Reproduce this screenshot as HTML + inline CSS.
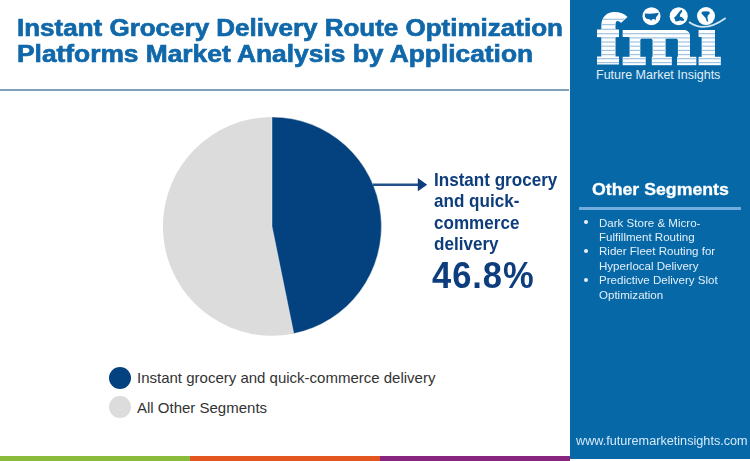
<!DOCTYPE html>
<html><head><meta charset="utf-8">
<style>
html,body{margin:0;padding:0;}
body{width:750px;height:461px;position:relative;overflow:hidden;background:#fff;font-family:"Liberation Sans",sans-serif;}
.abs{position:absolute;white-space:nowrap;}
.title{left:17px;color:#1068aa;font-weight:bold;font-size:23px;line-height:26.5px;transform-origin:0 0;-webkit-text-stroke:0.65px #1068aa;}
#hr{left:0;top:89px;width:569px;height:2px;background:#7f9fbb;}
#panel{left:570px;top:0;width:180px;height:459px;background:#0668a6;}
.stripe{top:456px;height:5px;}
#lbl{left:434px;top:169.6px;color:#0d3d7c;font-weight:bold;font-size:17.8px;line-height:21.5px;transform:scaleX(0.96);transform-origin:0 0;}
#pct{left:432px;top:256.2px;color:#0d3d7c;font-weight:bold;font-size:36.5px;line-height:40px;letter-spacing:1px;transform:scaleX(0.945);transform-origin:0 0;}
.leg{font-size:15px;color:#333;line-height:17px;}
.dot{border-radius:50%;width:22px;height:22px;}
#seg{left:592px;top:180px;color:#fff;font-weight:bold;font-size:16px;line-height:20px;transform:scaleX(1.107);transform-origin:0 0;-webkit-text-stroke:0.3px #fff;}
#divider{left:579px;top:207px;width:162px;height:3px;background:#72ade0;}
.bl{left:599px;color:#e3f0fb;font-size:11px;line-height:14.35px;transform:scaleX(1.05);transform-origin:0 0;}
.bu{left:583.7px;width:4px;height:4px;border-radius:50%;background:#eaf3fb;}
#url{left:575.5px;top:434.2px;color:#d6eafb;font-size:12px;line-height:14px;transform:scaleX(1.055);transform-origin:0 0;}
#fmitext{left:596px;top:66.5px;color:#e2eef9;font-size:12.5px;line-height:16px;}
</style></head>
<body>
<div class="abs title" style="top:15px;transform:scaleX(1.13)">Instant Grocery Delivery Route Optimization</div>
<div class="abs title" style="top:40.6px;transform:scaleX(1.145)">Platforms Market Analysis by Application</div>
<div id="hr" class="abs"></div>

<svg class="abs" style="left:0;top:0" width="570" height="461" viewBox="0 0 570 461">
  <circle cx="272.3" cy="226.4" r="109.4" fill="#dcdcdc"/>
  <path d="M272 226.4 L272 117 A109.4 109.4 0 0 1 293.8 333.6 Z" fill="#03427f" stroke="#fff" stroke-width="0.4"/>
  <line x1="373" y1="184.8" x2="420" y2="184.8" stroke="#22508a" stroke-width="2.5"/>
  <path d="M417.8 178 L427.2 184.7 L417.8 191.3 Z" fill="#0d3d7c"/>
</svg>

<div id="lbl" class="abs">Instant grocery<br>and quick-<br>commerce<br>delivery</div>
<div id="pct" class="abs">46.8%</div>

<div class="abs dot" style="left:108.5px;top:366.6px;background:#04417f"></div>
<div class="abs dot" style="left:108.5px;top:396.2px;background:#dcdcdc"></div>
<div class="abs leg" style="left:137px;top:369px">Instant grocery and quick-commerce delivery</div>
<div class="abs leg" style="left:137px;top:399.2px">All Other Segments</div>

<div class="abs stripe" style="left:0;width:190px;background:#8bbb3b"></div>
<div class="abs stripe" style="left:190px;width:190px;background:#e3561f"></div>
<div class="abs stripe" style="left:380px;width:190px;background:#88267f"></div>

<div id="panel" class="abs"></div>
<div id="seg" class="abs">Other Segments</div>
<div id="divider" class="abs"></div>
<div class="abs bu" style="top:220px"></div>
<div class="abs bu" style="top:249px"></div>
<div class="abs bu" style="top:277.5px"></div>
<div class="abs bl" style="top:215.8px">Dark Store &amp; Micro-<br>Fulfillment Routing<br>Rider Fleet Routing for<br>Hyperlocal Delivery<br>Predictive Delivery Slot<br>Optimization</div>
<svg class="abs" style="left:0;top:0" width="750" height="90" viewBox="0 0 750 90">
  <defs><mask id="lm" maskUnits="userSpaceOnUse" x="0" y="0" width="750" height="90"><g fill="#fff"><path d="M601.3 57 L601.3 26 C601.3 17 607 12 614 12 C620 12 624.5 13.5 627.5 17 L621 23 C619.5 21.2 617.8 20.6 616.6 21.3 C615.7 22 615.5 23.5 615.5 26 L615.5 57 Z"/>
    <rect x="597" y="29.6" width="22" height="7.5"/>
    <rect x="597" y="56.5" width="22" height="8"/>
    <path d="M622.7 30 L660 30 C663 30 665.6 32 665.6 36 L665.6 57 L652.6 57 L652.6 40.5 C652.6 39 651.5 38.4 650 38.4 L642.5 38.4 C641 38.4 640.3 39 640.3 40.5 L640.3 57 L629.6 57 L629.6 37 L622.7 37 Z"/>
    <path d="M655 30 L684 30 C687.5 30 690 32.5 690 36 L690 57 L677.9 57 L677.9 40.5 C677.9 39 676.8 38.4 675.3 38.4 L667.5 38.4 C666.2 38.4 665.6 39 665.6 40.5 L665.6 38 L655 34 Z"/>
    <rect x="622.7" y="56.8" width="23" height="8.4"/>
    <rect x="651.8" y="56.8" width="20" height="8.4"/>
    <rect x="677" y="56.8" width="19.3" height="8.4"/>
    <path d="M698.6 30 L715 30 L715 57 L701.7 57 L701.7 37 L698.6 37 Z"/>
    <rect x="698.6" y="56.8" width="22.2" height="8.4"/></g></mask></defs>
  <g fill="#fff"><path d="M601.3 57 L601.3 26 C601.3 17 607 12 614 12 C620 12 624.5 13.5 627.5 17 L621 23 C619.5 21.2 617.8 20.6 616.6 21.3 C615.7 22 615.5 23.5 615.5 26 L615.5 57 Z"/>
    <rect x="597" y="29.6" width="22" height="7.5"/>
    <rect x="597" y="56.5" width="22" height="8"/>
    <path d="M622.7 30 L660 30 C663 30 665.6 32 665.6 36 L665.6 57 L652.6 57 L652.6 40.5 C652.6 39 651.5 38.4 650 38.4 L642.5 38.4 C641 38.4 640.3 39 640.3 40.5 L640.3 57 L629.6 57 L629.6 37 L622.7 37 Z"/>
    <path d="M655 30 L684 30 C687.5 30 690 32.5 690 36 L690 57 L677.9 57 L677.9 40.5 C677.9 39 676.8 38.4 675.3 38.4 L667.5 38.4 C666.2 38.4 665.6 39 665.6 40.5 L665.6 38 L655 34 Z"/>
    <rect x="622.7" y="56.8" width="23" height="8.4"/>
    <rect x="651.8" y="56.8" width="20" height="8.4"/>
    <rect x="677" y="56.8" width="19.3" height="8.4"/>
    <path d="M698.6 30 L715 30 L715 57 L701.7 57 L701.7 37 L698.6 37 Z"/>
    <rect x="698.6" y="56.8" width="22.2" height="8.4"/></g>
  <g fill="#9fc3e2" mask="url(#lm)"><rect x="590" y="18.70" width="140" height="1.2"/><rect x="590" y="24.00" width="140" height="1.2"/><rect x="590" y="28.70" width="140" height="1.2"/><rect x="590" y="33.10" width="140" height="1.2"/><rect x="590" y="37.30" width="140" height="1.2"/><rect x="590" y="41.40" width="140" height="1.2"/><rect x="590" y="45.60" width="140" height="1.2"/><rect x="590" y="49.80" width="140" height="1.2"/><rect x="590" y="54.00" width="140" height="1.2"/><rect x="590" y="58.10" width="140" height="1.2"/><rect x="590" y="62.00" width="140" height="1.2"/></g>
  <g fill="#fff">
    <circle cx="651.5" cy="16.2" r="9"/>
    <circle cx="678.7" cy="16.2" r="9"/>
    <circle cx="706" cy="16.1" r="9"/>
  </g>
  <path d="M689 22 Q704.5 33.5 725.7 18" stroke="#d2e5f5" stroke-width="1.7" fill="none"/>
  <g fill="#0668a6">
    <path d="M644.8 13.6 L650 13.8 L655.5 13.3 L658.7 12.8 L658 15 L656.5 16.5 L655.8 18.5 L655.6 20.6 L654.2 19 L652.2 19.2 L651.2 20.8 L649.5 19.2 L646.5 18.8 L645 17 Z"/>
    <path d="M681.5 9.6 L682.3 11.5 L680.2 14.2 L679.8 16.5 L682 17.3 L684.2 19.5 L683.5 21 L680 20.5 L677.5 21.2 L675.5 21.5 L675 19.5 L674 17.5 L675.8 16.2 L677.5 14 L679.5 11.5 Z"/>
    <path d="M701.8 11.8 L706 11.2 L709.5 11.8 L709.8 13.5 L707.8 15.5 L707.4 18 L708.3 21.2 L707 21.8 L705.6 18 L703.4 15.5 L701.5 13.5 Z"/>
  </g>
</svg>
<div id="fmitext" class="abs">Future Market Insights</div>
<div id="url" class="abs">www.futuremarketinsights.com</div>
</body></html>
